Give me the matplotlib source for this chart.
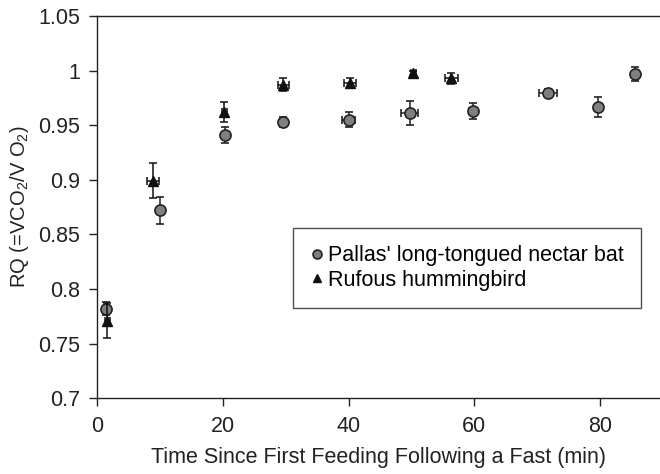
import matplotlib
matplotlib.use("Agg")
import matplotlib.pyplot as plt

plt.rcParams['font.family'] = ['Liberation Sans', 'DejaVu Sans']
plt.rcParams['mathtext.fontset'] = 'custom'
plt.rcParams['mathtext.rm'] = 'Liberation Sans'
plt.rcParams['mathtext.it'] = 'Liberation Sans'

# Pallas' long-tongued nectar bat
bat_x = [1.4, 10.0, 20.3, 29.6, 40.0, 49.7, 59.7, 71.7, 79.6, 85.5]
bat_y = [0.782, 0.872, 0.941, 0.953, 0.955, 0.961, 0.963, 0.980, 0.967, 0.997]
bat_yerr = [0.006, 0.012, 0.007, 0.005, 0.007, 0.011, 0.007, 0.003, 0.009, 0.006]
bat_xerr = [0.3, 0.3, 0.3, 0.5, 1.05, 1.3, 0.5, 1.4, 0.5, 0.3]

# Rufous hummingbird
hb_x = [1.6, 8.9, 20.2, 29.6, 40.2, 50.3, 56.3]
hb_y = [0.771, 0.899, 0.962, 0.987, 0.989, 0.998, 0.993]
hb_yerr = [0.016, 0.016, 0.009, 0.006, 0.004, 0.002, 0.005]
hb_xerr = [0.4, 0.9, 0.4, 0.9, 1.0, 0.4, 1.05]

xticks = [0, 20, 40, 60, 80]
yticks = [0.7, 0.75, 0.8, 0.85, 0.9, 0.95, 1.0, 1.05]
yticklabels = ['0.7', '0.75', '0.8', '0.85', '0.9', '0.95', '1', '1.05']

fig = plt.figure(figsize=(6.6, 4.74), dpi=100)
ax = fig.add_axes([0.147, 0.160, 0.853, 0.806])

ax.errorbar(bat_x, bat_y, yerr=bat_yerr, xerr=bat_xerr, fmt='o', color='#7f7f7f',
            markeredgecolor='#222222', markeredgewidth=1.2, markersize=8,
            ecolor='#222222', elinewidth=1.1, capsize=3, capthick=1.1,
            label="Pallas' long-tongued nectar bat", zorder=3)
ax.errorbar(hb_x, hb_y, yerr=hb_yerr, xerr=hb_xerr, fmt='^', color='#111111',
            markeredgecolor='#111111', markersize=6.5,
            ecolor='#111111', elinewidth=1.1, capsize=3, capthick=1.1,
            label='Rufous hummingbird', zorder=4)

ax.set_xlim(0, 89.5)
ax.set_ylim(0.7, 1.05)
ax.set_xticks(xticks)
ax.set_xticklabels([str(t) for t in xticks])
ax.set_yticks(yticks)
ax.set_yticklabels(yticklabels)
ax.tick_params(direction='out', length=6, width=1, labelsize=15.5, colors='#222222')
ax.tick_params(axis='y', pad=6)
ax.tick_params(axis='x', pad=7)
ax.spines['right'].set_visible(False)
for s in ['left', 'bottom', 'top']:
    ax.spines[s].set_linewidth(1.0)
    ax.spines[s].set_color('#222222')

ax.set_xlabel('Time Since First Feeding Following a Fast (min)', fontsize=15.5,
              color='#222222', labelpad=7)
ax.set_ylabel('RQ (=$V$CO$_2$/$V$ O$_2$)', fontsize=14.5, color='#222222')
ax.yaxis.set_label_coords(-0.118, 0.5)

handles, labels = ax.get_legend_handles_labels()
h = [hh[0] for hh in handles]
leg = ax.legend(h, labels, loc='upper left', bbox_to_anchor=(0.348, 0.445),
                borderaxespad=0,
                fontsize=15.5, frameon=True, fancybox=False, edgecolor='#222222',
                handlelength=0.6, handletextpad=0.25, borderpad=0.8,
                labelspacing=0.15, markerscale=0.8)
leg.get_frame().set_linewidth(1.0)

fig.savefig('out.png', dpi=100)
